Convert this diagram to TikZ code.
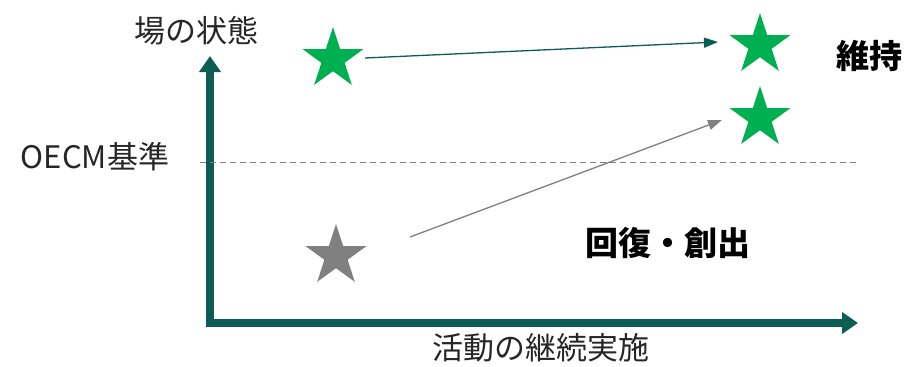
\documentclass[tikz,border=0pt]{standalone}
\usepackage{fontspec}
\setmainfont{Noto Sans CJK JP}
\usetikzlibrary{shapes}
\usetikzlibrary{arrows.meta}
\definecolor{axisteal}{RGB}{12,94,84}
\definecolor{stargreen}{RGB}{0,176,80}
\definecolor{stargray}{RGB}{128,128,128}
\definecolor{textgray}{RGB}{38,38,38}
\tikzset{
	star_base/.style = {
		star,
		star points=5,
		star point ratio=2.618,
		inner sep=0pt,
		minimum size=64pt
	},
	star_g/.style = {
		star_base,
		fill=stargreen
	},
	star_x/.style = {
		star_base,
		fill=stargray
	},
	label_n/.style = {
		inner sep=0pt,
		text=textgray,
		font=\fontsize{31}{34}\selectfont
	},
	label_b/.style = {
		label_n,
		text=black,
		font=\fontsize{33}{36}\selectfont\bfseries
	},
	axis_line/.style = {
		draw=axisteal,
		line width=8pt,
		-{Triangle[width=21pt,length=16pt]}
	},
	move_keep/.style = {
		draw=axisteal,
		line width=1.3pt,
		-{Triangle[width=10pt,length=14pt]}
	},
	move_up/.style = {
		draw=stargray,
		line width=1.3pt,
		-{Triangle[width=10pt,length=14pt]}
	},
}

\begin{document}
\begin{tikzpicture}[x=1pt,y=-1pt]
\useasboundingbox (0,0) rectangle (906,367);
% axes
\coordinate (origin) at (210,327);
\coordinate (x_start) at (206,323);
\coordinate (y_end) at (210,56);
\coordinate (x_end) at (858,323);
\draw[axis_line] (origin) -- (y_end);
\draw[axis_line] (x_start) -- (x_end);
% OECM line
\coordinate (base_l) at (200,162);
\coordinate (base_r) at (858,162);
\draw[stargray, line width=0.8pt, dash pattern=on 6pt off 4pt] (base_l) -- (base_r);
% labels
\node[label_n] (lbl_state) at (196,31) {場の状態};
\node[label_n] (lbl_oecm) at (95,157) {OECM基準};
\node[label_n] (lbl_act) at (541,348) {活動の継続実施};
\node[label_b] (lbl_keep) at (869,56) {維持};
\node[label_b] (lbl_rec) at (668,243) {回復・創出};
% stars
\node[star_g] (star_tl) at (333,59) {};
\node[star_g] (star_tr) at (760,45) {};
\node[star_g] (star_mr) at (760,118) {};
\node[star_x] (star_bl) at (336,256) {};
% moves
\coordinate (keep_from) at (365,58);
\coordinate (keep_to) at (718,42);
\coordinate (up_from) at (410,237);
\coordinate (up_to) at (722,120);
\draw[move_keep] (keep_from) -- (keep_to);
\draw[move_up] (up_from) -- (up_to);
\end{tikzpicture}
\end{document}
